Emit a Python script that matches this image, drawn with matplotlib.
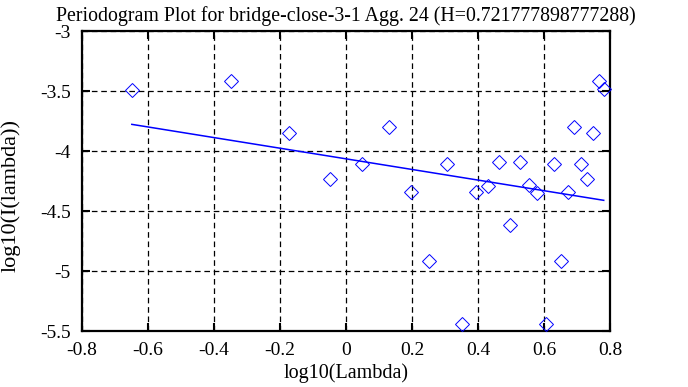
import matplotlib
matplotlib.use('Agg')
import matplotlib.pyplot as plt

# periodogram points
log_lambda = [-0.649, -0.348, -0.172, -0.048, 0.048, 0.129, 0.197, 0.253, 0.306,
              0.350, 0.394, 0.431, 0.464, 0.498, 0.528, 0.555, 0.579, 0.605,
              0.629, 0.650, 0.672, 0.692, 0.712, 0.730, 0.748, 0.766, 0.781]
log_I = [-3.490, -3.414, -3.847, -4.233, -4.108, -3.800, -4.339, -4.920, -4.108,
         -5.444, -4.344, -4.289, -4.089, -4.614, -4.089, -4.283, -4.347, -5.444,
         -4.108, -4.920, -4.339, -3.800, -4.108, -4.230, -3.853, -3.414, -3.486]

# fitted line (slope = 1 - 2H)
fit_x = [-0.649, 0.781]
fit_y = [-3.778, -4.411]

title = 'Periodogram Plot for bridge-close-3-1 Agg. 24 (H=0.721777898777288)'
xticks = [-0.8, -0.6, -0.4, -0.2, 0, 0.2, 0.4, 0.6, 0.8]
yticks = [-5.5, -5, -4.5, -4, -3.5, -3]

plt.rcParams['font.family'] = ['Liberation Serif', 'DejaVu Serif']

fig = plt.figure(figsize=(6.88, 3.87), dpi=100)
ax = fig.add_axes([82 / 688, 56 / 387, 528 / 688, 300 / 387])

ax.plot(log_lambda, log_I, linestyle='none', marker='D', markersize=7,
        markerfacecolor='none', markeredgecolor='#0000ff', markeredgewidth=0.7,
        clip_on=False, zorder=3)
ax.plot(fit_x, fit_y, color='#0000ff', linewidth=1.1, zorder=3)

ax.set_xlim(-0.8, 0.8)
ax.set_ylim(-5.5, -3)
ax.set_xticks(xticks)
ax.set_yticks(yticks)
ax.set_xticklabels(['-0.8', '-0.6', '-0.4', '-0.2', '0', '0.2', '0.4', '0.6', '0.8'])
ax.set_yticklabels(['-5.5', '-5', '-4.5', '-4', '-3.5', '-3'])

ax.grid(color='black', linestyle=(0, (4.5, 3)), linewidth=0.9)
ax.tick_params(direction='in', length=6, width=1.5, top=True, right=True,
               labelsize=14, pad=8)
for s in ax.spines.values():
    s.set_linewidth(1.6)

ax.set_title(title, fontsize=14.3, pad=7)
ax.set_xlabel('log10(Lambda)', fontsize=14.5, labelpad=3)
ax.set_ylabel('log10(I(lambda))', fontsize=16)
ax.yaxis.set_label_coords(-0.117, 0.45)

plt.savefig('out.png', dpi=100)
